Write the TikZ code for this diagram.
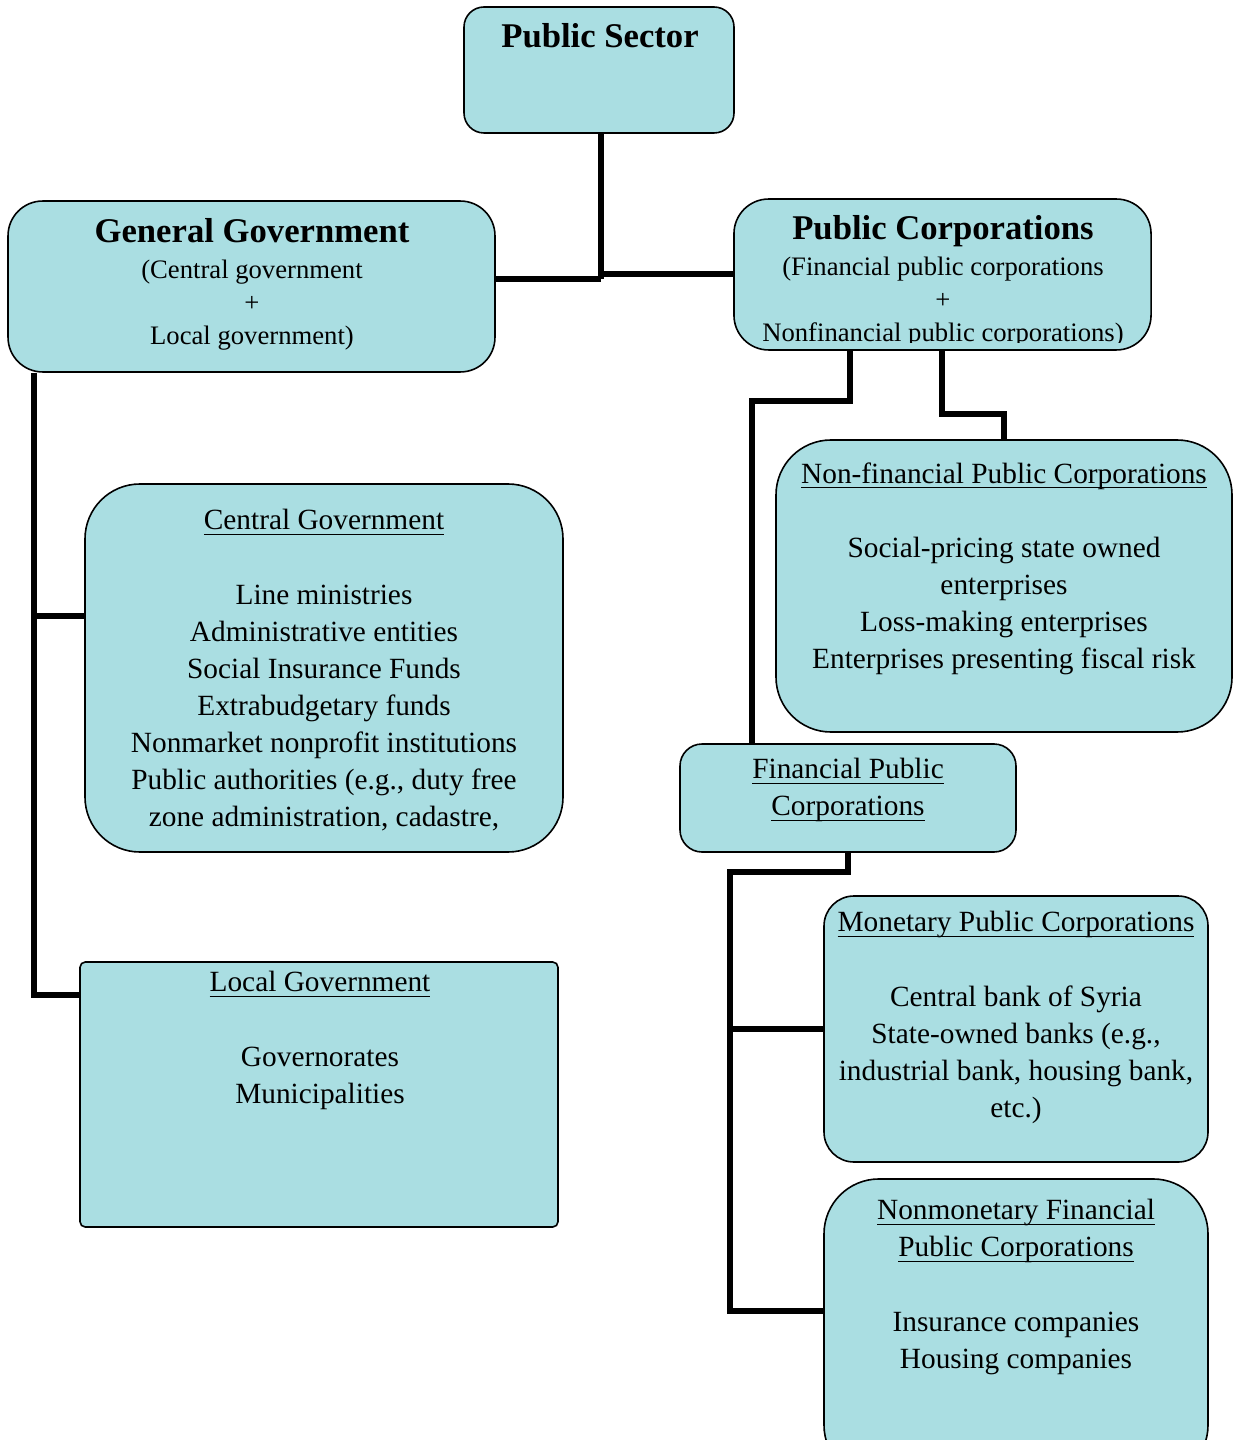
\documentclass[tikz,border=0pt]{standalone}
\usepackage{fontspec}
\setmainfont{Liberation Serif}
\definecolor{boxfill}{RGB}{170,222,226}
% underline at a fixed depth, crossing the descenders
\newcommand{\uln}[1]{\underline{\raisebox{0pt}[\height][0.3pt]{#1}}}

\begin{document}
\begin{tikzpicture}[
  x=0.375pt, y=-0.375pt,
  box/.style={rectangle, draw, line width=0.6pt, fill=boxfill, inner sep=0pt},
  boxtext/.style={anchor=north, inner sep=0pt, align=center, font=\fontsize{11}{13.9}\selectfont},
  headtext/.style={anchor=north, inner sep=0pt, align=center, font=\fontsize{10}{12.5}\selectfont},
  link/.style={line width=2.6pt}
]
\useasboundingbox (0,0) rectangle (1233,1440);
\clip (0,0) rectangle (1233,1440);

% Top level
\node[box, minimum width=101.25pt, minimum height=47.25pt, rounded corners=7.5pt] (ps) at (599,70) {};
\node[headtext] (ps-t) at (600,23) {{\fontsize{13}{13}\selectfont\bfseries Public Sector}};

% Second level
\node[box, minimum width=182.6pt, minimum height=64.1pt, rounded corners=13pt] (gg) at (251.5,286.5) {};
\node[headtext] (gg-t) at (252,218) {{\fontsize{13}{13}\selectfont\bfseries General Government}\\[0.8pt]
  (Central government\\+\\Local government)};

\node[box, minimum width=156.4pt, minimum height=56.6pt, rounded corners=13pt] (pc) at (942.5,274.5) {};
\begin{scope}
  \clip (734,199) rectangle (1151,343);
  \node[headtext] (pc-t) at (943,215) {{\fontsize{13}{13}\selectfont\bfseries Public Corporations}\\[0.8pt]
    (Financial public corporations\\+\\Nonfinancial public corporations)};
\end{scope}

% General government branch
\node[box, minimum width=179.25pt, minimum height=138pt, rounded corners=20.6pt] (cg) at (324,668) {};
\node[boxtext] (cg-t) at (324,509) {\uln{Central Government}\\[13.9pt]
  Line ministries\\Administrative entities\\Social Insurance Funds\\Extrabudgetary funds\\
  Nonmarket nonprofit institutions\\Public authorities (e.g., duty free\\zone administration, cadastre,};

\node[box, minimum width=179.25pt, minimum height=99.4pt, rounded corners=2pt] (lg) at (319,1094.5) {};
\node[boxtext] (lg-t) at (320,971) {\uln{Local Government}\\[13.9pt]
  Governorates\\Municipalities};

% Public corporations branch
\node[box, minimum width=171pt, minimum height=109.5pt, rounded corners=20.6pt] (nfpc) at (1004,586) {};
\node[boxtext] (nfpc-t) at (1004,462) {\uln{Non-financial Public Corporations}\\[13.9pt]
  Social-pricing state owned\\enterprises\\Loss-making enterprises\\Enterprises presenting fiscal risk};

\node[box, minimum width=126pt, minimum height=40.5pt, rounded corners=8.25pt] (fpc) at (848,798) {};
\node[boxtext] (fpc-t) at (848,758) {\uln{Financial Public}\\\uln{Corporations}};

\node[box, minimum width=144pt, minimum height=99.75pt, rounded corners=11.25pt] (mpc) at (1016,1029) {};
\node[boxtext] (mpc-t) at (1016,911) {\uln{Monetary Public Corporations}\\[13.9pt]
  Central bank of Syria\\State-owned banks (e.g.,\\industrial bank, housing bank,\\etc.)};

\node[box, minimum width=144pt, minimum height=112.9pt, rounded corners=20.6pt] (nmfpc) at (1016,1329.5) {};
\node[boxtext] (nmfpc-t) at (1016,1199) {\uln{Nonmonetary Financial}\\\uln{Public Corporations}\\[13.9pt]
  Insurance companies\\Housing companies};

% Connectors
\coordinate (psjoin) at (601,279);
\draw[link] (ps.south -| psjoin) -- (psjoin);
\draw[link] (gg.east |- psjoin) -- (psjoin);
\draw[link] (pc.west |- 0,274) -- (psjoin |- 0,274);

\coordinate (ggspine) at (34,616);
\draw[link] (gg.south -| ggspine) |- (lg.west |- 0,995);
\draw[link] (ggspine) -- (cg.west |- ggspine);

\coordinate (pcbendA) at (752,401);
\coordinate (pcbendB) at (1004,414);
\draw[link] (pc.south -| 850,0) |- (pcbendA) -- (pcbendA |- fpc.north);
\draw[link] (pc.south -| 942,0) |- (pcbendB) -- (nfpc.north);

\coordinate (fpcbend) at (730,872);
\draw[link] (fpc.south) |- (fpcbend) |- (nmfpc.west |- 0,1311);
\draw[link] (fpcbend |- mpc.west) -- (mpc.west);

\end{tikzpicture}
\end{document}
